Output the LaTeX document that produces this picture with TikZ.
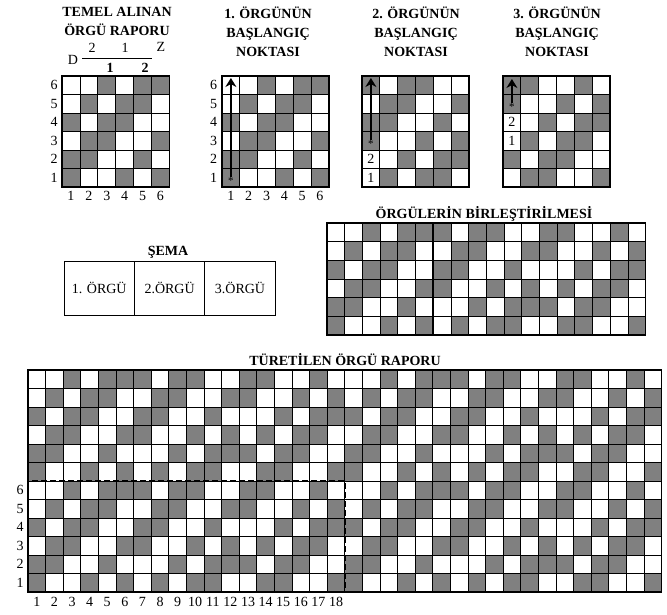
\documentclass[tikz,border=0pt]{standalone}
\usepackage{fontspec}
\setmainfont{Liberation Serif}
\usetikzlibrary{arrows.meta, positioning}
\definecolor{orgugri}{RGB}{128,128,128}

\newcommand{\orguciz}[7]{%
	\foreach \sutun in {1,...,#3}{
		\foreach \sira in {1,...,#4}{
			\pgfmathtruncatemacro{\blok}{floor(mod(\sutun-1,18)/6)}
			\pgfmathtruncatemacro{\desen}{mod(\sutun-\sira+#5+2*\blok+36,6)}
			\pgfmathtruncatemacro{\koyu}{{1,0,0,1,0,1}[\desen]}
			\ifnum\koyu=1 \fill[koyu] ({#1+(\sutun-1)*#6},{#2+(#4-\sira)*#7}) rectangle ++(#6,#7); \fi
		}
	}
	\foreach \sutun in {0,...,#3} \draw[cizgi] ({#1+\sutun*#6},#2) -- ++(0,{#4*#7});
	\foreach \sira in {0,...,#4} \draw[cizgi] (#1,{#2+\sira*#7}) -- ++({#3*#6},0);
	\draw[cerceve] (#1,#2) rectangle ++({#3*#6},{#4*#7});
}

\begin{document}
\begin{tikzpicture}[x=1pt, y=-1pt]
	\tikzset {>={Stealth[length=9pt, width=11pt]}, node distance=0pt, koyu/.style={fill=orgugri}, cizgi/.style={line width=0.8pt}, cerceve/.style={line width=1.6pt},
		baslik/.style={font=\fontsize{14}{19}\selectfont\bfseries, align=center, inner sep=0pt}, etiket/.style={font=\fontsize{14}{16}\selectfont, inner sep=0pt},
		ok/.style={->, line width=2.4pt}, yildiz/.style={font=\fontsize{11}{11}\selectfont, inner sep=0pt},
		semakutu/.style={draw, line width=0.8pt, minimum width=70.4pt, minimum height=54pt, outer sep=0pt, font=\fontsize{14}{16}\selectfont},
		kesik/.style={dashed, dash pattern=on 6pt off 3pt, line width=2.2pt} }
	\useasboundingbox (0,0) rectangle (667,614);

	\orguciz{62}{76}{6}{6}{0}{17.9}{18.5}
	\orguciz{222}{76}{6}{6}{0}{17.8}{18.5}
	\orguciz{362}{76}{6}{6}{2}{17.8}{18.5}
	\orguciz{503}{76}{6}{6}{4}{17.8}{18.5}
	\orguciz{327}{223}{18}{6}{0}{17.7}{18.67}
	\orguciz{28}{370}{36}{12}{0}{17.6}{18.5}
	\draw[cerceve] ({327+6*17.7},223) -- ++(0,112);
	\draw[cerceve] ({327+12*17.7},223) -- ++(0,112);
	\draw[kesik] (28,481) rectangle ({28+18*17.6},592);

	\node[baslik] (temel) at (117,21) {TEMEL ALINAN\\ÖRGÜ RAPORU};
	\node[baslik] (bir) at (268,32) {1. ÖRGÜNÜN\\BAŞLANGIÇ\\NOKTASI};
	\node[baslik] (iki) at (416,32) {2. ÖRGÜNÜN\\BAŞLANGIÇ\\NOKTASI};
	\node[baslik] (uc) at (557,32) {3. ÖRGÜNÜN\\BAŞLANGIÇ\\NOKTASI};
	\node[baslik] (birles) at (484,214) {ÖRGÜLERİN BİRLEŞTİRİLMESİ};
	\node[baslik] (turetilen) at (345,360) {TÜRETİLEN ÖRGÜ RAPORU};
	\node[baslik] (sema) at (168,252) {ŞEMA};

	\node[etiket] (d) at (73,60) {D};
	\node[etiket] (ust2) at (92,48) {2};
	\node[etiket] (ust1) at (125,48) {1};
	\node[etiket] (z) at (161,47) {Z};
	\node[etiket, font=\fontsize{14}{16}\selectfont\bfseries] (alt1) at (110,68) {1};
	\node[etiket, font=\fontsize{14}{16}\selectfont\bfseries] (alt2) at (145,68) {2};
	\draw[line width=1pt] (82,58) -- (152,58);

	\foreach \i in {1,...,6}{
		\node[etiket] (ta\i) at ({62+(\i-0.5)*17.9},196) {\i};
		\node[etiket] (sa\i) at (54,{187-(\i-0.5)*18.5}) {\i};
		\node[etiket] (tb\i) at ({222+(\i-0.5)*17.8},196) {\i};
		\node[etiket] (sb\i) at (213.5,{187-(\i-0.5)*18.5}) {\i};
		\node[etiket] (sd\i) at (20,{592-(\i-0.5)*18.5}) {\i};
	}
	\foreach \i in {1,...,18}
		\node[etiket] (td\i) at ({28+(\i-0.5)*17.6},602) {\i};

	\node[etiket] (iki2) at (370.9,159.25) {2};
	\node[etiket] (iki1) at (370.9,177.75) {1};
	\node[etiket] (uc2) at (511.9,122.25) {2};
	\node[etiket] (uc1) at (511.9,140.75) {1};

	\node[yildiz] (y1) at (230.9,181) {*};
	\node[yildiz] (y2) at (370.9,144) {*};
	\node[yildiz] (y3) at (511.9,107) {*};
	\coordinate (u1) at (230.9,78);
	\coordinate (u2) at (370.9,78);
	\coordinate (u3) at (511.9,79);
	\draw[ok] (y1.north) -- (u1);
	\draw[ok] (y2.north) -- (u2);
	\draw[ok] (y3.north) -- (u3);

	\node[semakutu] (s1) at (99.2,288) {1. ÖRGÜ};
	\node[semakutu, right=of s1] (s2) {2.ÖRGÜ};
	\node[semakutu, right=of s2] (s3) {3.ÖRGÜ};
\end{tikzpicture}
\end{document}
